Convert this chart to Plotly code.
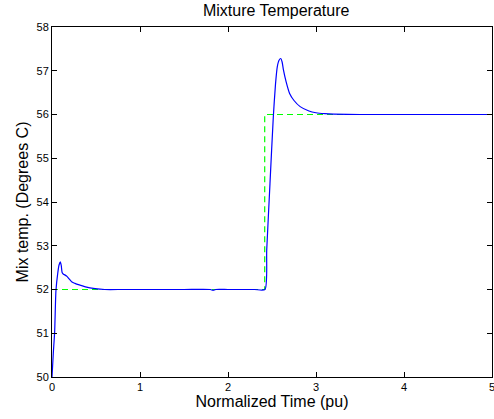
import plotly.graph_objects as go

# Measured mixture temperature (blue)
time_pu = [0.0, 0.015, 0.03, 0.045, 0.065, 0.08, 0.094, 0.105, 0.115, 0.13, 0.14, 0.17,
           0.2, 0.227, 0.26, 0.3, 0.38, 0.49, 0.6, 0.8, 1.0, 1.5, 1.8, 1.83, 1.86, 2.0,
           2.3, 2.42, 2.44, 2.477, 2.515, 2.54, 2.56, 2.58, 2.6, 2.615, 2.63, 2.66,
           2.70, 2.75, 2.82, 2.92, 3.0, 3.1, 3.2, 3.5, 4.0, 5.0]
mix_temp = [50.0, 50.55, 51.03, 51.98, 52.37, 52.56, 52.63, 52.55, 52.39, 52.35, 52.34, 52.3,
            52.23, 52.17, 52.14, 52.11, 52.06, 52.02, 52.0, 52.0, 52.0, 52.0, 52.0, 51.98, 52.0, 52.0,
            52.0, 52.0, 52.9, 54.42, 55.95, 56.7, 57.09, 57.24, 57.28, 57.2, 57.02, 56.75,
            56.48, 56.32, 56.18, 56.08, 56.04, 56.02, 56.01, 56.0, 56.0, 56.0]

# Set-point (green dashed)
sp_time = [0.0, 2.417, 2.417, 5.0]
sp_temp = [52.0, 52.0, 56.0, 56.0]

x_ticks = [0, 1, 2, 3, 4, 5]
y_ticks = [50, 51, 52, 53, 54, 55, 56, 57, 58]

fig = go.Figure()
fig.add_trace(go.Scatter(x=sp_time, y=sp_temp, mode="lines",
                         line=dict(color="#00ff00", width=1.2, dash="6px,4px"),
                         hoverinfo="skip", showlegend=False))
fig.add_trace(go.Scatter(x=time_pu, y=mix_temp, mode="lines",
                         line=dict(color="#0000ff", width=1.2, shape="spline", smoothing=0.6),
                         showlegend=False))

axis_common = dict(showgrid=False, zeroline=False, showline=True, linecolor="black",
                   linewidth=1, mirror="ticks", ticks="inside", ticklen=5,
                   tickcolor="black", tickfont=dict(size=11, color="black"),
                   automargin=False, ticklabeloverflow="allow")

fig.update_layout(
    width=494, height=419,
    margin=dict(l=52, r=2, t=27, b=42),
    paper_bgcolor="white", plot_bgcolor="white",
    font=dict(family="Liberation Sans, Arial, sans-serif", color="black", size=11),
    title=dict(text="Mixture Temperature", x=0.559, xanchor="center",
               y=0.975, yanchor="middle", automargin=False,
               font=dict(size=16, color="black")),
    xaxis=dict(range=[0, 5], tickvals=x_ticks,
               title=dict(text="Normalized Time (pu)", font=dict(size=16), standoff=0),
               **axis_common),
    yaxis=dict(range=[50, 58], tickvals=y_ticks,
               title=dict(text="Mix temp. (Degrees C)", font=dict(size=16), standoff=3),
               **axis_common),
)

fig.write_html("out.html", config={"displayModeBar": False},
               post_script="document.body.style.margin='0';document.body.style.overflow='hidden';")
